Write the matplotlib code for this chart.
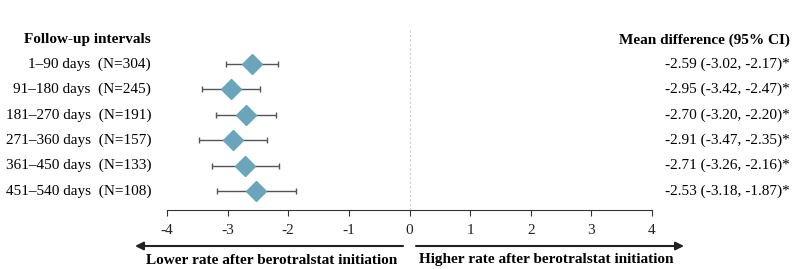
import numpy as np
import matplotlib.pyplot as plt
import matplotlib.transforms as mtransforms

# follow-up intervals and estimates
intervals = ["1\u201390 days", "91\u2013180 days", "181\u2013270 days",
             "271\u2013360 days", "361\u2013450 days", "451\u2013540 days"]
n_pat = [304, 245, 191, 157, 133, 108]
mean_diff = [-2.59, -2.95, -2.70, -2.91, -2.71, -2.53]
ci_low = [-3.02, -3.42, -3.20, -3.47, -3.26, -3.18]
ci_high = [-2.17, -2.47, -2.20, -2.35, -2.16, -1.87]
xticks = [-4, -3, -2, -1, 0, 1, 2, 3, 4]

plt.rcParams['font.family'] = ['Liberation Serif', 'DejaVu Serif']

W, H = 793, 269
fig = plt.figure(figsize=(W / 100, H / 100), dpi=100)
# axes placed in pixel terms: x -4..4 spans px 167..652, spine at y=210
ax = fig.add_axes([167 / W, 1 - 210 / H, 485 / W, 182 / H])

y = np.arange(len(intervals))
md = np.array(mean_diff)
err = np.array([md - np.array(ci_low), np.array(ci_high) - md])

ax.axvline(0, color='#cccccc', lw=0.8, ls=(0, (2, 2)), zorder=0)
ax.errorbar(md, y, xerr=err, fmt='none', ecolor='#555555', elinewidth=1.0,
            capsize=2.5, capthick=1.0, zorder=2)
ax.plot(md, y, 'D', color='#6aa5bb', markersize=10, zorder=3)

ax.set_xlim(-4, 4)
ax.set_ylim(5.75, -1.42)
ax.set_xticks(xticks)
ax.set_xticklabels([str(t) for t in xticks], fontsize=11, color='#222222')
ax.set_yticks([])
for s in ['left', 'right', 'top']:
    ax.spines[s].set_visible(False)
ax.spines['bottom'].set_color('#333333')
ax.tick_params(axis='x', length=4, color='#333333', pad=6)

# text columns: x in figure fraction, y in data rows
tr = mtransforms.blended_transform_factory(fig.transFigure, ax.transData)
lx = 151 / W
ax.text(lx, -0.95, "Follow-up intervals", transform=tr, fontsize=11,
        fontweight='bold', ha='right', va='center', clip_on=False)
for i, (lab, n) in enumerate(zip(intervals, n_pat)):
    ax.text(lx, i, f"{lab}  (N={n})", transform=tr, fontsize=11,
            ha='right', va='center', clip_on=False)

rx = 790 / W
ax.text(rx, -0.95, "Mean difference (95% CI)", transform=tr, fontsize=11,
        fontweight='bold', ha='right', va='center', clip_on=False)
for i, (m, lo, hi) in enumerate(zip(mean_diff, ci_low, ci_high)):
    ax.text(rx, i, f"{m:.2f} ({lo:.2f}, {hi:.2f})*", transform=tr,
            fontsize=11, ha='right', va='center', clip_on=False)

# direction arrows
ay = 1 - 246 / H
arrow = dict(arrowstyle='-|>', color='#222222', lw=1.5,
             mutation_scale=12, shrinkA=0, shrinkB=0)
ax.annotate('', xy=(135 / W, ay), xytext=(403 / W, ay),
            xycoords='figure fraction', arrowprops=arrow)
ax.annotate('', xy=(684 / W, ay), xytext=(416 / W, ay),
            xycoords='figure fraction', arrowprops=arrow)
ty = 1 - 260 / H
fig.text(272 / W, ty, "Lower rate after berotralstat initiation", fontsize=11,
         fontweight='bold', ha='center', va='center')
fig.text(546 / W, ty, "Higher rate after berotralstat initiation", fontsize=11,
         fontweight='bold', ha='center', va='center')

fig.savefig('out.png', dpi=100, facecolor='white')
